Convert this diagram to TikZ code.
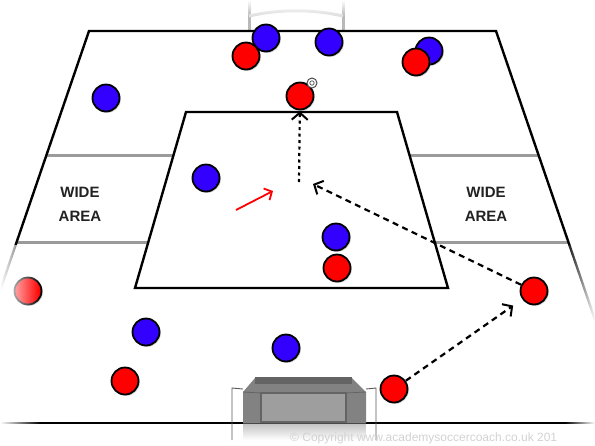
\documentclass[tikz,border=0pt]{standalone}
\usepackage{fontspec}
\setmainfont{Liberation Sans}
\usepackage{tikz}
\usetikzlibrary{positioning,arrows.meta,shadows,fadings}
\usepackage{xcolor}
\definecolor{teamred}{RGB}{255,0,0}
\definecolor{teamblue}{RGB}{51,0,255}
\definecolor{areagray}{RGB}{155,155,155}
\definecolor{netdark}{RGB}{100,100,100}
\definecolor{netmid}{RGB}{130,130,130}
\definecolor{netlight}{RGB}{158,158,158}
\definecolor{labelgray}{RGB}{34,34,34}
\tikzfading[name=fadeleft, left color=transparent!0, right color=transparent!100]
\tikzfading[name=faderight, left color=transparent!100, right color=transparent!0]
\tikzfading[name=fadebelow, top color=transparent!0, bottom color=transparent!100]

\begin{document}
\begin{tikzpicture}[x=1pt,y=-1pt,
  player/.style={circle,draw=black,line width=1.8pt,minimum size=27pt,inner sep=0pt,
    drop shadow={shadow xshift=1.3pt,shadow yshift=-1.3pt,opacity=0.35}},
  redpl/.style={player,fill=teamred},
  bluepl/.style={player,fill=teamblue},
  pitchline/.style={line width=2.4pt,black,line join=miter},
  widearea/.style={line width=3pt,areagray},
  arealabel/.style={font=\bfseries\fontsize{15}{24}\selectfont,text=labelgray,align=center},
  run/.style={line width=2.2pt,dash pattern=on 6pt off 4.5pt,
    -{Straight Barb[length=7pt,width=15pt,line width=2pt]}},
  dotrun/.style={line width=2.2pt,dash pattern=on 3pt off 3.5pt,
    -{Straight Barb[length=7pt,width=16pt,line width=2pt]}},
  passarrow/.style={teamred,line width=1.8pt,
    -{Straight Barb[length=6pt,width=13pt,line width=1.8pt]}}]
\useasboundingbox (0,0) rectangle (595,445);
\clip (0,0) rectangle (595,445);
% Top goal, seen from behind
\draw[gray!55,line width=3pt] (249,0) -- (249,31);
\draw[gray!55,line width=3pt] (343,0) -- (343,31);
\draw[gray!25,line width=3pt] (249,16) .. controls (280,9) and (312,9) .. (343,16);
\fill[white,path fading=fadebelow] (238,0) rectangle (354,16);
% Wide areas
\draw[widearea] (46.5,155) -- (173.5,155);
\draw[widearea] (16.6,242) -- (148.3,242);
\draw[widearea] (409.5,155) -- (538.5,155);
\draw[widearea] (434.7,242) -- (568.4,242);
\node[arealabel] (wideleft) at (80,204) {WIDE\\AREA};
\node[arealabel] (wideright) at (486,204) {WIDE\\AREA};
% Pitch markings
\draw[pitchline] (0,290.5) -- (89,31) -- (496,31) -- (595,319.6);
\draw[pitchline] (186,112) -- (397,112) -- (448,288) -- (135,288) -- cycle;
\draw[pitchline] (0,423) -- (595,423);
% Bottom goal
\fill[netmid,opacity=0.5,path fading=fadebelow] (243,423) rectangle (366,440);
\fill[netmid] (243,392) -- (255,378) -- (352,378) -- (366,392) -- (366,423) -- (243,423) -- cycle;
\fill[netdark] (255,377) rectangle (352,384);
\fill[netlight] (261,393) rectangle (346,422);
\draw[netdark,line width=1.2pt] (261,393) rectangle (346,422);
\draw[netdark,line width=0.8pt] (243,392) -- (261,393);
\draw[netdark,line width=0.8pt] (366,392) -- (346,393);
\draw[gray!70!black,line width=0.9pt] (243,389) -- (232,388) -- (232,440);
\draw[gray!70!black,line width=0.9pt] (366,389) -- (376,388) -- (376,440);
% Blue team
\node[bluepl] (bkeep) at (266,38) {};
\node[bluepl] (bpost) at (329,42) {};
\node[bluepl] (bright) at (429,51) {};
\node[bluepl] (bleft) at (106,98) {};
\node[bluepl] (bmidl) at (206,178) {};
\node[bluepl] (bmidc) at (336,237) {};
\node[bluepl] (bback) at (146,332) {};
\node[bluepl] (bdeep) at (286,348) {};
% Red team
\node[redpl] (rnear) at (246,56) {};
\node[redpl] (rfar) at (416,62) {};
\node[redpl] (striker) at (300,96) {};
\node[redpl] (rmid) at (337,268) {};
\node[redpl] (rleft) at (28,291) {};
\node[redpl] (wing) at (534,291) {};
\node[redpl] (rback) at (125,381) {};
\node[redpl] (fwd) at (394,389) {};
% Ball
\node[circle,draw=gray!60!black,fill=white,line width=1pt,minimum size=10pt,inner sep=0pt] (ball) at (312,83) {};
\draw[gray!60!black,line width=0.7pt] (ball.center) circle (2.2pt);
% Movements
\coordinate (dropstart) at (299,182);
\coordinate (runend) at (313,184);
\coordinate (passfrom) at (236,210);
\coordinate (passto) at (273,191);
\draw[dotrun,shorten >=1pt] (dropstart) -- (striker);
\draw[run] (wing) -- (runend);
\draw[run,shorten >=11pt] (fwd) -- (wing);
\draw[passarrow] (passfrom) -- (passto);
% Faded edges
\fill[white,path fading=fadeleft] (0,245) rectangle (40,445);
\fill[white,path fading=faderight] (565,245) rectangle (595,445);
% Watermark
\node[anchor=south west,inner sep=0pt,text=gray!35,font=\fontsize{12}{12}\selectfont] (copyright) at (290,444) {© Copyright www.academysoccercoach.co.uk 201};
\end{tikzpicture}
\end{document}
